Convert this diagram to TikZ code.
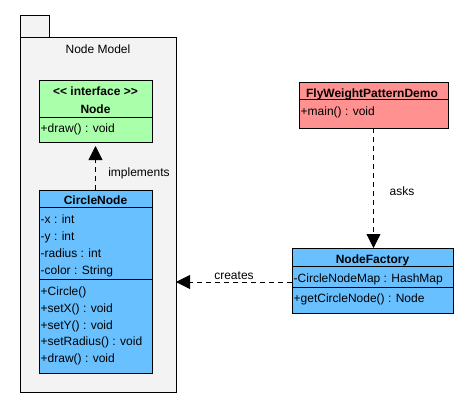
\documentclass[tikz,border=0pt]{standalone}
\usepackage{fontspec}
\setmainfont{Liberation Sans}
\usetikzlibrary{arrows.meta}
\definecolor{ifacegreen}{RGB}{170,255,170}
\definecolor{classblue}{RGB}{104,192,255}
\definecolor{demored}{RGB}{255,145,145}
\definecolor{pkggray}{RGB}{243,243,243}
\begin{document}
\begin{tikzpicture}[x=1pt,y=-1pt,
  font=\fontsize{12}{13}\selectfont,
  box/.style={draw=black, line width=0.8pt, inner sep=0pt, outer sep=0pt, anchor=north west},
  txt/.style={inner sep=0pt, anchor=base west},
  ttl/.style={inner sep=0pt, anchor=base, font=\fontsize{12}{13}\selectfont\bfseries},
  sep/.style={line width=0.8pt},
  dep/.style={line width=0.8pt, dash pattern=on 5pt off 4pt, -{Triangle[length=14pt,width=14pt]}},
  lbl/.style={inner sep=0pt, anchor=base}]
\useasboundingbox (0,0) rectangle (474,418);
% package
\node[box, fill=pkggray, minimum width=29pt, minimum height=22pt] (pkgtab) at (20,15) {};
\node[box, fill=pkggray, minimum width=156pt, minimum height=355pt] (pkg) at (20,37) {};
\node[lbl] (pkgname) at (98,53) {Node Model};
% interface Node
\node[box, fill=ifacegreen, minimum width=113pt, minimum height=62pt] (iface) at (39,80) {};
\draw[sep] (iface.west |- 0,117) -- (iface.east |- 0,117);
\node[ttl] (ifst) at (95.5,95) {<\kern0pt< interface >\kern0pt>};
\node[ttl] (ifname) at (95.5,113) {Node};
\node[txt] (ifm1) at (40.5,132) {+draw() : void};
% CircleNode
\node[box, fill=classblue, minimum width=113pt, minimum height=183pt] (circ) at (39,190) {};
\draw[sep] (circ.west |- 0,207) -- (circ.east |- 0,207);
\draw[sep] (circ.west |- 0,279) -- (circ.east |- 0,279);
\node[ttl] (cname) at (95.5,204) {CircleNode};
\node[txt] (ca1) at (40.5,223) {-x : int};
\node[txt] (ca2) at (40.5,240) {-y : int};
\node[txt] (ca3) at (40.5,257) {-radius : int};
\node[txt] (ca4) at (40.5,274) {-color : String};
\node[txt] (cm1) at (40.5,295) {+Circle()};
\node[txt] (cm2) at (40.5,312) {+setX() : void};
\node[txt] (cm3) at (40.5,329) {+setY() : void};
\node[txt] (cm4) at (40.5,345) {+setRadius() : void};
\node[txt] (cm5) at (40.5,362) {+draw() : void};
% FlyWeightPatternDemo
\node[box, fill=demored, minimum width=149pt, minimum height=46pt] (demo) at (299,82) {};
\draw[sep] (demo.west |- 0,99) -- (demo.east |- 0,99);
\node[ttl] (dname) at (372,97) {FlyWeightPatternDemo};
\node[txt] (dm1) at (300.5,115) {+main() : void};
% NodeFactory
\node[box, fill=classblue, minimum width=161pt, minimum height=65pt] (fact) at (292,248) {};
\draw[sep] (fact.west |- 0,266) -- (fact.east |- 0,266);
\draw[sep] (fact.west |- 0,287) -- (fact.east |- 0,287);
\node[ttl] (fname) at (372.5,263) {NodeFactory};
\node[txt] (fa1) at (293.5,282) {-CircleNodeMap : HashMap};
\node[txt] (fm1) at (293.5,302) {+getCircleNode() : Node};
% connectors
\draw[dep] (circ.north) -- ([yshift=-4pt]iface.south);
\node[lbl] (impl) at (139,176) {implements};
\draw[dep] (demo.south) -- (demo.south |- fact.north);
\node[lbl] (asks) at (402,195) {asks};
\draw[dep] (fact.west |- 0,282) -- (pkg.east |- 0,282);
\node[lbl, fill=white, inner xsep=12pt, inner ysep=3pt] (creates) at (234,279) {creates};
\end{tikzpicture}
\end{document}
